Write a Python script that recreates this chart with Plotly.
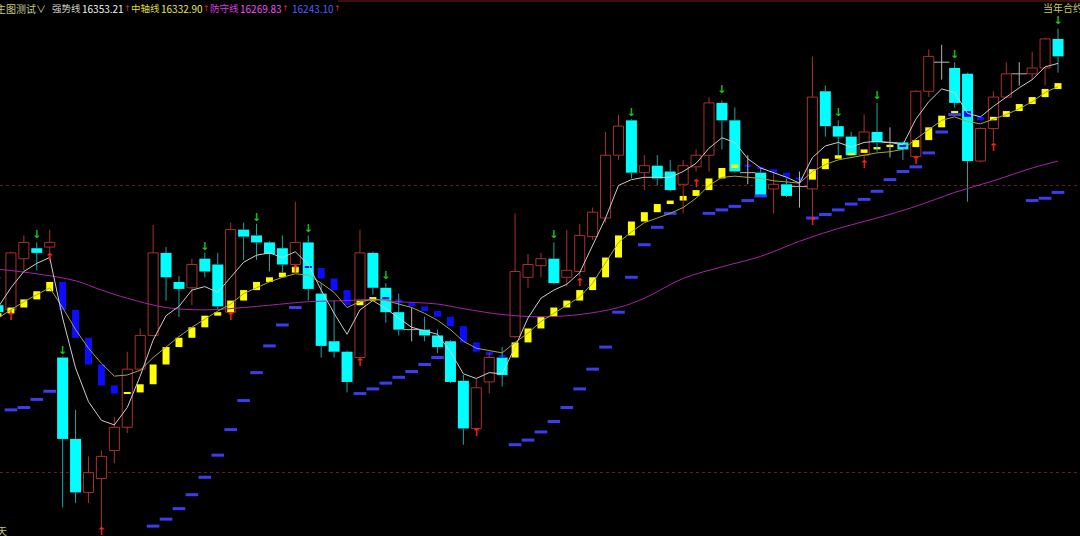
import plotly.graph_objects as go

# ---- K bars, index 0 is the bar cut by the left edge ----
opens = [16146, 16142, 16186, 16195, 16196, 16101, 16031, 15985, 15997, 16021,
         16041, 16091, 16120, 16191, 16166, 16161, 16186, 16181, 16140, 16211,
         16206, 16200, 16195, 16181, 16200, 16156, 16115, 16106, 16101, 16191,
         16161, 16140, 16125, 16125, 16120, 16115, 16081, 16040, 16080, 16101,
         16119, 16170, 16180, 16186, 16170, 16175, 16205, 16221, 16275, 16305,
         16260, 16266, 16261, 16250, 16265, 16275, 16320, 16305, 16260, 16260,
         16246, 16250, 16248, 16246, 16330, 16300, 16291, 16275, 16295, 16286,
         16286, 16274, 16330, 16355, 16350, 16345, 16270, 16298, 16325, 16345,
         16345, 16350, 16375]
highs = [16148, 16192, 16206, 16200, 16211, 16102, 16056, 16016, 16021, 16050,
         16106, 16126, 16215, 16196, 16171, 16186, 16191, 16191, 16217, 16217,
         16216, 16201, 16206, 16235, 16206, 16165, 16150, 16107, 16211, 16192,
         16165, 16156, 16144, 16136, 16125, 16116, 16086, 16083, 16105, 16110,
         16225, 16190, 16191, 16200, 16211, 16216, 16230, 16295, 16310, 16306,
         16275, 16275, 16271, 16271, 16280, 16325, 16322, 16316, 16275, 16264,
         16260, 16255, 16261, 16360, 16335, 16305, 16295, 16310, 16320, 16299,
         16287, 16331, 16366, 16370, 16355, 16346, 16299, 16330, 16355, 16355,
         16364, 16376, 16384]
lows = [16138, 16140, 16176, 16176, 16187, 15972, 15976, 15976, 15953, 16010,
        16036, 16090, 16119, 16150, 16136, 16146, 16170, 16142, 16139, 16185,
        16185, 16175, 16174, 16176, 16150, 16101, 16101, 16071, 16100, 16155,
        16131, 16120, 16115, 16115, 16105, 16079, 16026, 16039, 16070, 16076,
        16118, 16161, 16170, 16164, 16162, 16171, 16202, 16217, 16271, 16255,
        16245, 16249, 16244, 16225, 16261, 16261, 16280, 16260, 16250, 16239,
        16225, 16239, 16230, 16221, 16291, 16275, 16274, 16271, 16278, 16273,
        16271, 16273, 16325, 16340, 16316, 16235, 16269, 16286, 16324, 16335,
        16340, 16335, 16346]
closes = [16140, 16191, 16200, 16191, 16200, 16031, 15985, 16002, 16016, 16041,
          16091, 16120, 16191, 16170, 16160, 16181, 16175, 16145, 16211, 16205,
          16200, 16190, 16181, 16200, 16160, 16111, 16106, 16080, 16191, 16161,
          16140, 16125, 16125, 16120, 16110, 16080, 16040, 16075, 16101, 16086,
          16175, 16181, 16186, 16165, 16176, 16206, 16226, 16275, 16300, 16260,
          16266, 16255, 16245, 16266, 16275, 16320, 16305, 16261, 16260, 16240,
          16250, 16240, 16248, 16325, 16300, 16291, 16275, 16295, 16286, 16286,
          16280, 16330, 16360, 16355, 16320, 16270, 16298, 16325, 16345, 16345,
          16350, 16375, 16360]

# stepped trend level (yellow when rising, blue when falling); first value is the level before bar 0
trend = [16136, 16139, 16144, 16151, 16158, 16166, 16142, 16118, 16095, 16077,
         16070, 16071, 16078, 16095, 16110, 16118, 16127, 16137, 16140, 16150,
         16159, 16166, 16170, 16174, 16179, 16178, 16169, 16159, 16146, 16150,
         16153, 16151, 16148, 16145, 16141, 16136, 16128, 16114, 16106, 16103,
         16101, 16114, 16126, 16136, 16144, 16150, 16159, 16170, 16187, 16206,
         16218, 16226, 16233, 16236, 16240, 16245, 16255, 16264, 16267, 16265,
         16263, 16260, 16256, 16254, 16263, 16272, 16275, 16277, 16280, 16282,
         16284, 16282, 16288, 16299, 16309, 16313, 16308, 16305, 16308, 16313,
         16319, 16325, 16332, 16337]

# 强势线 (white)
strong_line = [16144, 16161, 16175, 16182, 16187, 16135, 16092, 16063, 16047, 16043,
               16058, 16085, 16116, 16137, 16145, 16159, 16162, 16157, 16170, 16183,
               16189, 16191, 16187, 16192, 16181, 16159, 16139, 16121, 16142, 16150,
               16143, 16135, 16127, 16124, 16121, 16106, 16087, 16083, 16088, 16087,
               16110, 16135, 16152, 16159, 16164, 16174, 16198, 16221, 16249, 16254,
               16256, 16256, 16256, 16261, 16268, 16281, 16290, 16286, 16272, 16264,
               16260, 16256, 16251, 16273, 16283, 16286, 16282, 16286, 16287, 16286,
               16284, 16306, 16321, 16332, 16329, 16311, 16308, 16317, 16325, 16333,
               16340, 16351, 16354]
# 中轴线 (olive)
axis_line = [16135, 16142, 16149, 16155, 16161, 16144, 16125, 16109, 16096, 16085,
             16086, 16090, 16101, 16110, 16119, 16127, 16134, 16141, 16147, 16156,
             16161, 16166, 16170, 16173, 16172, 16165, 16157, 16144, 16149, 16151,
             16150, 16147, 16144, 16139, 16133, 16125, 16115, 16109, 16107, 16105,
             16114, 16122, 16132, 16139, 16146, 16153, 16165, 16182, 16200, 16209,
             16217, 16221, 16225, 16230, 16238, 16249, 16256, 16257, 16256, 16255,
             16253, 16252, 16251, 16261, 16267, 16271, 16273, 16275, 16277, 16278,
             16280, 16289, 16297, 16305, 16308, 16304, 16302, 16306, 16310, 16315,
             16321, 16329, 16334]
# 防守线 (purple), read at these bars
guard_idx = [0, 3, 6, 8, 10, 13, 16, 19, 21, 24, 27, 29, 31, 34, 36, 39, 42, 45,
             48, 50, 53, 56, 59, 62, 65, 68, 71, 74, 77, 80, 82]
guard_line = [16177, 16173, 16167, 16159, 16152, 16144, 16142, 16144, 16146, 16149,
              16150, 16151, 16149, 16147, 16143, 16138, 16136, 16138, 16144, 16152,
              16169, 16179, 16188, 16201, 16212, 16221, 16231, 16243, 16253, 16264,
              16270]
# blue stop dashes
stop_idx = [1, 2, 3, 4, 12, 13, 14, 15, 16, 17, 18, 19, 20, 21, 22, 23,
            28, 29, 30, 31, 32, 33, 34, 40, 41, 42, 43, 44, 45, 46, 47, 48, 49, 50,
            51, 52, 55, 56, 57, 58, 59, 63, 64, 65, 66, 67, 68, 69, 70, 71, 72, 73,
            74, 80, 81, 82]
stop_vals = [16056, 16058, 16065, 16072, 15956, 15962, 15971, 15983, 15998, 16017,
             16039, 16064, 16088, 16111, 16129, 16144, 16070, 16074, 16079, 16084,
             16089, 16095, 16101, 16026, 16030, 16037, 16046, 16058, 16074, 16091,
             16110, 16140, 16170, 16198, 16213, 16225, 16225, 16228, 16231, 16236,
             16240, 16221, 16224, 16228, 16233, 16237, 16244, 16254, 16261, 16265,
             16277, 16295, 16310, 16236, 16238, 16243]
# signal arrows
sell_idx = [0, 3, 5, 16, 20, 24, 30, 43, 49, 56, 65, 68, 74, 82]
sell_vals = [16170, 16206, 16106, 16196, 16221, 16211, 16171, 16206, 16311, 16331,
             16311, 16326, 16361, 16390]
buy_idx = [1, 4, 8, 18, 23, 28, 37, 45, 54, 63, 67, 71, 77]
buy_vals = [16136, 16186, 15951, 16136, 16176, 16096, 16036, 16165, 16250, 16217,
            16266, 16270, 16281]

ref_levels = [16249, 16002]

RED = "#a83030"
CYAN = "#00ffff"
TEAL = "#1fa5a5"
GREY = "#b4b4b4"
FONT = "Noto Sans CJK SC"
ARROW_FONT = "DejaVu Sans"

# header: text, colour, left pixel, font, size
header = [
    ("主图测试∨", "#c8c88c", -4, FONT, 10),
    ("强势线", "#d0d0d0", 52, FONT, 9.5),
    ("16353.21", "#f0f0f0", 82, FONT, 10),
    ("↑", "#c83232", 123.5, ARROW_FONT, 8),
    ("中轴线", "#dcdc3c", 130.5, FONT, 9.5),
    ("16332.90", "#e6e650", 161, FONT, 10),
    ("↑", "#c83232", 202.5, ARROW_FONT, 8),
    ("防守线", "#dc3cdc", 209.5, FONT, 9.5),
    ("16269.83", "#f050f0", 240, FONT, 10),
    ("↑", "#c83232", 281.5, ARROW_FONT, 8),
    ("16243.10", "#5a5aff", 292, FONT, 10),
    ("↑", "#c83232", 333.5, ARROW_FONT, 8),
]

n = len(opens)
bars = list(range(n))
up = [i for i in bars if closes[i] > opens[i]]
down = [i for i in bars if closes[i] < opens[i]]
flat = [i for i in bars if closes[i] == opens[i]]


def wicks(ids):
    xs, ys = [], []
    for i in ids:
        top, bot = max(opens[i], closes[i]), min(opens[i], closes[i])
        if highs[i] > top:
            xs += [i, i, None]
            ys += [top, highs[i], None]
        if lows[i] < bot:
            xs += [i, i, None]
            ys += [bot, lows[i], None]
    return xs, ys


fig = go.Figure()

# bodies
fig.add_bar(x=up, base=[opens[i] for i in up], y=[closes[i] - opens[i] for i in up],
            width=0.78, marker=dict(color="black", line=dict(color=RED, width=1)))
fig.add_bar(x=down, base=[opens[i] for i in down], y=[closes[i] - opens[i] for i in down],
            width=0.85, marker=dict(color=CYAN, line=dict(width=0)))

# trend boxes
t_up = [i for i in bars if trend[i + 1] > trend[i]]
t_dn = [i for i in bars if trend[i + 1] < trend[i]]
fig.add_bar(x=t_up, base=[trend[i] for i in t_up], y=[trend[i + 1] - trend[i] for i in t_up],
            width=0.54, marker=dict(color="#ffff00", line=dict(width=0)))
fig.add_bar(x=t_dn, base=[trend[i] for i in t_dn], y=[trend[i + 1] - trend[i] for i in t_dn],
            width=0.54, marker=dict(color="#0c0cff", line=dict(width=0)))

# wicks
for ids, col in ((up, RED), (down, TEAL), (flat, GREY)):
    wx, wy = wicks(ids)
    fig.add_scatter(x=wx, y=wy, mode="lines", line=dict(color=col, width=1))
fig.add_scatter(x=flat, y=[opens[i] for i in flat], mode="markers",
                marker=dict(symbol="line-ew", size=11, line=dict(color=GREY, width=1)))

# stop dashes
fig.add_scatter(x=stop_idx, y=stop_vals, mode="markers",
                marker=dict(symbol="line-ew", size=9, line=dict(color="#3c3cf0", width=3)))

# lines
fig.add_scatter(x=guard_idx, y=guard_line, mode="lines", line=dict(color="#a824a8", width=1, shape="spline"))
fig.add_scatter(x=bars, y=axis_line, mode="lines", line=dict(color="#a4a444", width=1))
fig.add_scatter(x=bars, y=strong_line, mode="lines", line=dict(color="#cccccc", width=1))

# arrows
fig.add_scatter(x=sell_idx, y=sell_vals, mode="text", text=["↓"] * len(sell_idx),
                textfont=dict(color="#14c814", size=11, family=ARROW_FONT, weight="bold"))
fig.add_scatter(x=buy_idx, y=buy_vals, mode="text", text=["↑"] * len(buy_idx),
                textfont=dict(color="#ff2020", size=11, family=ARROW_FONT, weight="bold"))

W, H = 1080, 536
for txt, col, px, fam, size in header:
    fig.add_annotation(text=txt, x=px / W, y=1 - 8 / H, xref="paper", yref="paper",
                       xanchor="left", yanchor="middle", showarrow=False,
                       borderpad=0, borderwidth=0,
                       font=dict(color=col, size=size, family=fam))
fig.add_annotation(text="当年合约", x=1043 / W, y=1 - 7 / H, xref="paper", yref="paper",
                   xanchor="left", yanchor="middle", showarrow=False,
                   borderpad=0, borderwidth=0,
                   font=dict(color="#c8c864", size=10, family=FONT))
fig.add_annotation(text="天", x=-3 / W, y=1 - 530 / H, xref="paper", yref="paper",
                   xanchor="left", yanchor="middle", showarrow=False,
                   borderpad=0, borderwidth=0,
                   font=dict(color="#c8c864", size=10, family=FONT))

# top border of the price pane (right of the header)
fig.add_shape(type="line", xref="paper", yref="paper", x0=338 / W, x1=1, y0=1 - 1 / H, y1=1 - 1 / H,
              line=dict(color="#7a1c1c", width=1))

fig.update_layout(
    width=W, height=H, margin=dict(l=0, r=0, t=0, b=0),
    paper_bgcolor="black", plot_bgcolor="black",
    barmode="overlay", showlegend=False, hovermode=False,
    xaxis=dict(range=[0.155, 83.70], visible=False),
    yaxis=dict(range=[15947.5, 16408.5], tickvals=ref_levels, showticklabels=False,
               showgrid=True, gridcolor="#6e1a1a", griddash="dot", gridwidth=1,
               zeroline=False, ticks=""),
)

fig.write_html("out.html", config={"displayModeBar": False},
               post_script="document.body.style.margin='0';document.body.style.background='black';")
